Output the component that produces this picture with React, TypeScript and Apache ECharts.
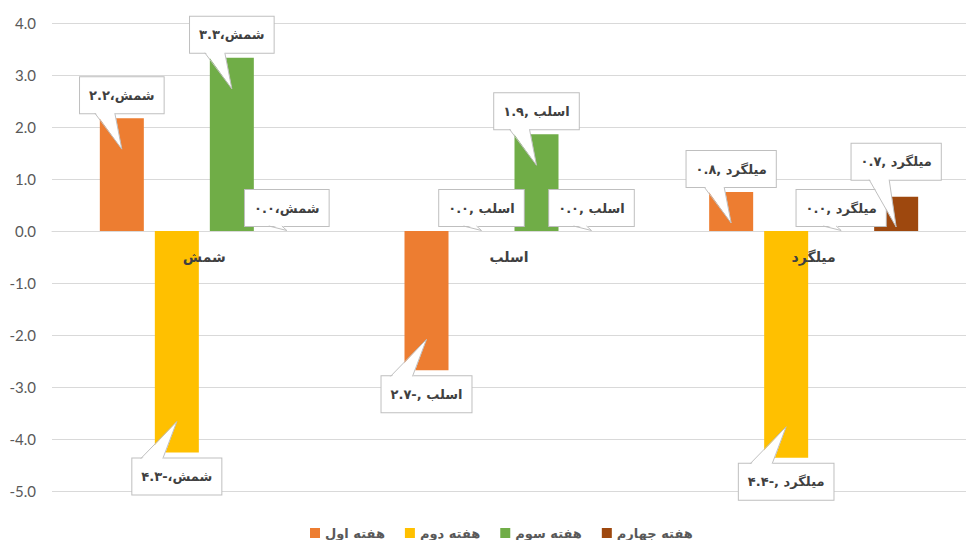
import React, { useEffect, useRef } from 'react';
import * as echarts from 'echarts';

const categories = ['شمش', 'اسلب', 'میلگرد'];
const separators = ['،', ' ,', ' ,'];
const seriesNames = ['هفته اول', 'هفته دوم', 'هفته سوم', 'هفته جهارم'];
const week1 = [2.17, -2.68, 0.75];
const week2 = [-4.26, 0, -4.36];
const week3 = [3.33, 1.86, 0];
const week4 = [0, 0, 0.66];
const seriesValues = [week1, week2, week3, week4];
const colors = ['#ED7D31', '#FFC000', '#70AD47', '#9E480E'];
const yMin = -5;
const yMax = 4;
const yInterval = 1;

// style constants
const BAR_W = 44;
const BAR_GAP = 11;
const DIST_POS = 5;
const DIST_NEG = 6;
const LABEL_NUDGE: Record<string, number> = { '3-2': 17 };
const CAT_LABEL_OFFSET = 26;

const faDigits = '۰۱۲۳۴۵۶۷۸۹';
const toFa = (s: string) => s.replace(/\d/g, (d) => faDigits[+d]);

function labelDist(s: number, c: number, v: number) {
  const k = `${s}-${c}`;
  if (LABEL_NUDGE[k] !== undefined) return LABEL_NUDGE[k];
  return v < 0 ? DIST_NEG : DIST_POS;
}

export default function App() {
  const ref = useRef<HTMLDivElement>(null);
  useEffect(() => {
    document.body.style.margin = '0';
    const chart = echarts.init(ref.current!, undefined, { renderer: 'svg' });

    const barSeries = seriesValues.map((vals, s) => ({
      name: seriesNames[s],
      type: 'bar',
      barWidth: BAR_W,
      barGap: `${(BAR_GAP / BAR_W) * 100}%`,
      itemStyle: { color: colors[s] },
      z: 2,
      data: vals.map((v, c) => ({
        value: v,
        label: {
          position: v < 0 ? 'bottom' : 'top',
          distance: labelDist(s, c, v),
        },
      })),
      label: {
        show: true,
        formatter: (p: any) =>
          categories[p.dataIndex] + separators[p.dataIndex] + toFa(Number(p.value).toFixed(1)),
        backgroundColor: '#FFFFFF',
        borderColor: '#BFBFBF',
        borderWidth: 1,
        padding: [9, 9, 9, 9],
        lineHeight: 18,
        color: '#404040',
        fontSize: 13,
        fontWeight: 'bold',
        fontFamily: 'DejaVu Sans',
      },
    }));

    const tailData: number[][] = [];
    seriesValues.forEach((vals, s) => vals.forEach((v, c) => tailData.push([c, v, s])));

    const tailSeries = {
      name: 'tails',
      type: 'custom',
      z: 10,
      silent: true,
      data: tailData,
      encode: { x: 0, y: 1 },
      renderItem: (params: any, api: any) => {
        const c = api.value(0);
        const v = api.value(1);
        const s = api.value(2);
        const end = api.coord([c, v]);
        const zero = api.coord([c, 0]);
        const cx = end[0] + (s - 1.5) * (BAR_W + BAR_GAP);
        const d = labelDist(s, c, v);
        let bl: number, br: number, edge: number, inner: number, tip: number;
        if (v > 0) {
          edge = end[1] - d;
          inner = edge - 1.5;
          tip = Math.min(end[1] + 31, zero[1] - 4);
          bl = cx - 27;
          br = cx - 7;
        } else if (v < 0) {
          edge = end[1] + d;
          inner = edge + 1.5;
          tip = end[1] - 31;
          bl = cx - 36;
          br = cx - 14;
        } else {
          edge = zero[1] - d;
          inner = edge - 1.5;
          tip = zero[1] - 0.5;
          bl = cx - 18;
          br = cx - 5;
        }
        return {
          type: 'group',
          children: [
            {
              type: 'polygon',
              shape: { points: [[bl, inner], [br, inner], [cx, tip]] },
              style: { fill: '#FFFFFF', stroke: null },
            },
            {
              type: 'polyline',
              shape: { points: [[bl, edge], [cx, tip], [br, edge]] },
              style: { fill: null, stroke: '#BFBFBF', lineWidth: 1 },
            },
          ],
        };
      },
    };

    const catLabelSeries = {
      name: 'categoryLabels',
      type: 'custom',
      z: 4,
      silent: true,
      data: categories.map((_, c) => [c, 0]),
      encode: { x: 0, y: 1 },
      renderItem: (params: any, api: any) => {
        const c = api.value(0);
        const p = api.coord([c, 0]);
        return {
          type: 'text',
          x: p[0],
          y: p[1] + CAT_LABEL_OFFSET,
          style: {
            text: categories[c],
            fill: '#404040',
            font: 'bold 14px "DejaVu Sans"',
            align: 'center',
            verticalAlign: 'middle',
          },
        };
      },
    };

    chart.setOption({
      animation: false,
      backgroundColor: '#FFFFFF',
      grid: { left: 52, right: 0, top: 23, bottom: 49 },
      legend: {
        data: seriesNames,
        icon: 'rect',
        itemWidth: 10,
        itemHeight: 10,
        itemGap: 20,
        left: 305,
        top: 520,
        textStyle: {
          color: '#595959',
          fontSize: 13,
          fontWeight: 'bold',
          lineHeight: 16,
          fontFamily: 'DejaVu Sans',
        },
      },
      xAxis: {
        type: 'category',
        data: categories,
        axisLine: { onZero: true, lineStyle: { color: '#D9D9D9', width: 1 } },
        axisTick: { show: false },
        axisLabel: { show: false },
        splitLine: { show: false },
      },
      yAxis: {
        type: 'value',
        min: yMin,
        max: yMax,
        interval: yInterval,
        axisLine: { show: false },
        axisTick: { show: false },
        axisLabel: {
          margin: 16,
          color: '#595959',
          fontSize: 15,
          fontFamily: 'Lato',
          formatter: (v: number) => v.toFixed(1),
        },
        splitLine: { lineStyle: { color: '#D9D9D9', width: 1 } },
      },
      series: [...barSeries, tailSeries, catLabelSeries],
    });
    return () => chart.dispose();
  }, []);
  return <div ref={ref} style={{ width: 966, height: 540 }} />;
}
